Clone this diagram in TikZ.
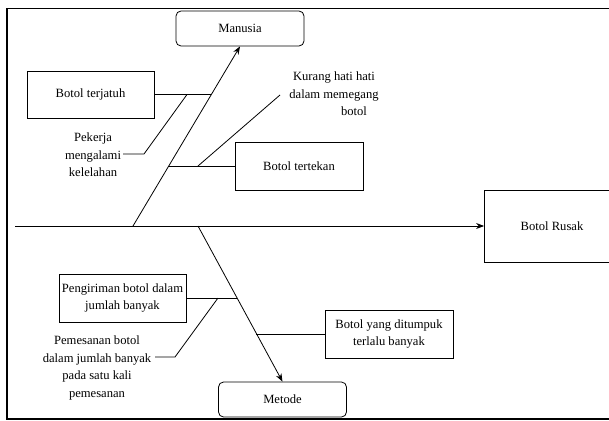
\documentclass[tikz,border=0pt]{standalone}
\usepackage{fontspec}
\setmainfont{Liberation Serif}
\usetikzlibrary{arrows.meta}
\begin{document}
\begin{tikzpicture}[x=1pt,y=-1pt,
  txt/.style={font=\fontsize{12.6}{17.5}\selectfont, align=center, inner sep=0pt},
  sqbox/.style={txt, draw, line width=0.8pt, minimum width=#1, minimum height=48},
  rbox/.style={txt, draw, line width=0.8pt, rounded corners=5pt, minimum width=128, minimum height=35},
  bone/.style={line width=0.8pt},
  arr/.style={line width=0.8pt, -{Stealth[length=8pt,width=6pt]}}]
\useasboundingbox (0,0) rectangle (609,420);
\clip (0,0) rectangle (609,420);
% frame
\draw[line width=1.8pt] (7,8.5) rectangle (620,419);
% heads
\node[rbox] (manusia) at (240,28.5) {Manusia};
\node[rbox] (metode) at (282.5,399.5) {Metode};
\node[sqbox=135, minimum height=72] (rusak) at (552,226) {Botol Rusak};
% spine
\coordinate (spineL) at (15,226);
\draw[arr] (spineL) -- (rusak.west);
% main bones
\coordinate (rootU) at (133,226);
\coordinate (rootD) at (198,226);
\draw[arr] (rootU) -- (manusia.south);
\draw[arr] (rootD) -- (metode.north);
% upper causes
\node[sqbox=127, minimum height=47] (terjatuh) at (90.5,94.5) {Botol terjatuh};
\coordinate (j1) at (211,94.5);
\draw[bone] (terjatuh.east) -- (j1);
\node[txt] (pekerja) at (93,155) {Pekerja\\mengalami\\kelelahan};
\coordinate (p1) at (144,154);
\coordinate (p2) at (187,94.5);
\draw[bone] ([xshift=2pt]pekerja.east |- p1) -- (p1) -- (p2);
\node[sqbox=128] (tertekan) at (299,166) {Botol tertekan};
\coordinate (j2) at (168.7,166);
\draw[bone] (tertekan.west) -- (j2);
\node[txt] (kurang) at (334,94) {Kurang hati hati\\dalam memegang\\\hspace*{40pt}botol};
\coordinate (k1) at (280,95);
\coordinate (k2) at (198,166);
\draw[bone] (k1) -- (k2);
% lower causes
\node[sqbox=127] (pengiriman) at (122.5,298) {Pengiriman botol dalam\\jumlah banyak};
\coordinate (j3) at (237,298);
\draw[bone] (pengiriman.east) -- (j3);
\node[txt] (pemesanan) at (97,368) {Pemesanan botol\\dalam jumlah banyak\\pada satu kali\\pemesanan};
\coordinate (q1) at (175,357);
\coordinate (q2) at (218,298);
\draw[bone] (155,357) coordinate (q0) -- (q1) -- (q2);
\node[sqbox=128] (ditumpuk) at (389,334) {Botol yang ditumpuk\\terlalu banyak};
\coordinate (j4) at (256,334);
\draw[bone] (ditumpuk.west) -- (j4);
\end{tikzpicture}
\end{document}
